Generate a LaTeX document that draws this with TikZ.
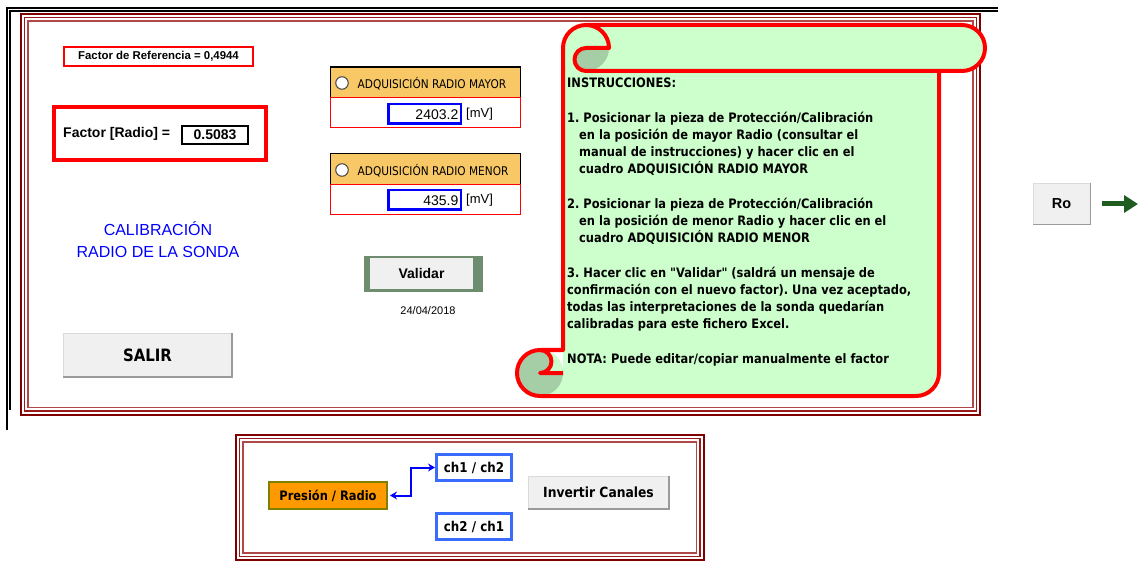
\documentclass[tikz,border=0pt]{standalone}
\usepackage{fontspec}
\setmainfont{Liberation Sans}
\newfontfamily\tah[FakeStretch=0.88]{DejaVu Sans}
\usetikzlibrary{arrows.meta}
\frenchspacing

\newcommand\fsz[1]{\fontsize{#1}{#1}\selectfont}

\definecolor{frameA}{HTML}{800000}
\definecolor{frameB}{HTML}{9A1A1A}
\definecolor{frameC}{HTML}{B04848}
\definecolor{scrollfill}{HTML}{CCFFCC}
\definecolor{scrolldark}{HTML}{A6CEA6}
\definecolor{hdrorange}{HTML}{F8C866}
\definecolor{btnface}{HTML}{F0F0F0}
\definecolor{btnrim}{HTML}{DADADA}
\definecolor{btnshade}{HTML}{9A9A9A}
\definecolor{valgreen}{HTML}{6E8C6E}
\definecolor{chblue}{HTML}{3A6BFF}
\definecolor{presorange}{HTML}{FF9900}
\definecolor{presedge}{HTML}{808000}
\definecolor{roarrow}{HTML}{1F5C1F}

\begin{document}
\begin{tikzpicture}[x=1pt,y=-1pt,
  button/.style={fill=btnface, draw=btnrim, line width=0.8pt, inner sep=0pt},
  hdr/.style={fill=hdrorange, draw=black, line width=1.5pt, inner sep=0pt,
              minimum width=190, minimum height=31},
  valbox/.style={fill=white, draw=red, line width=1pt, inner sep=0pt,
                 minimum width=190, minimum height=30},
  numbox/.style={draw=blue, line width=2.5pt, inner sep=0pt,
                 minimum width=72.5, minimum height=19.5},
  chbox/.style={draw=chblue, line width=3pt, fill=white, inner sep=0pt,
                minimum width=75, minimum height=26, font=\tah\bfseries\fsz{13.5}},
  instr/.style={anchor=base west, inner sep=0pt, font=\tah\bfseries\fsz{13}},
  scrollline/.style={draw=red, line width=4pt, line join=round},
  radiodot/.style={circle, fill=white, draw=black!75, line width=1pt,
                   inner sep=0pt, minimum size=12.5}
]
\useasboundingbox (0,0) rectangle (1138,569);
\fill[white] (0,0) rectangle (1138,569);

% sheet edge (black double rule)
\draw[black, line width=1.6pt] (6.8,430) -- (6.8,8.2) -- (998,8.2);
\draw[black, line width=1.8pt] (10,410) -- (10,11.3) -- (998,11.3);

% main form frame (triple dark-red rule)
\draw[frameA, line width=2pt]   (21,14) rectangle (980,414.5);
\draw[frameB, line width=1.3pt] (24.5,17.5) rectangle (976.5,411);
\draw[frameC, line width=1.3pt] (28,21) rectangle (973,407.5);

% reference factor
\node[draw=red, line width=2pt, inner sep=0pt, minimum width=189, minimum height=19,
      font=\bfseries\fsz{11.4}] (refbox) at (158.5,56.5) {Factor de Referencia = 0,4944};

% current factor
\draw[red, line width=4pt] (54,107) rectangle (266,160);
\node[anchor=west, inner sep=0pt, font=\bfseries\fsz{14}] (factlbl) at (63,134) {Factor [Radio] =};
\node[draw=black, line width=2pt, inner sep=0pt, minimum width=66, minimum height=18,
      font=\bfseries\fsz{14}] (factval) at (215,135) {0.5083};

% title
\node[align=center, inner sep=0pt, text=blue, font=\fsz{16}] (title) at (158,240)
  {CALIBRACIÓN\\[6pt]RADIO DE LA SONDA};

% exit button
\node[button, minimum width=168, minimum height=43, font=\tah\bfseries\fsz{17}] (salir) at (147.5,355) {SALIR};
\draw[btnshade, line width=1.5pt] (salir.north east) -- (salir.south east) -- (salir.south west);

% acquisition: larger radius
\node[hdr] (mayorhdr) at (425.5,82.5) {};
\node[radiodot] (mayordot) at (342,83) {};
\node[anchor=west, inner sep=0pt, font=\tah\fsz{12}] (mayorlbl) at (357.5,84) {ADQUISICIÓN RADIO MAYOR};
\node[valbox] (mayorrow) at (425.5,113) {};
\node[numbox] (mayornum) at (424.5,114) {};
\node[anchor=east, inner sep=0pt, font=\fsz{14}] (mayorval) at (458.5,114.5) {2403.2};
\node[anchor=west, inner sep=0pt, font=\fsz{13}] (mayorunit) at (466,114) {[mV]};

% acquisition: smaller radius
\node[hdr] (menorhdr) at (425.5,169) {};
\node[radiodot] (menordot) at (342,170) {};
\node[anchor=west, inner sep=0pt, font=\tah\fsz{12}] (menorlbl) at (357.5,170.5) {ADQUISICIÓN RADIO MENOR};
\node[valbox] (menorrow) at (425.5,200) {};
\node[numbox] (menornum) at (424.5,200) {};
\node[anchor=east, inner sep=0pt, font=\fsz{14}] (menorval) at (458.5,200.5) {435.9};
\node[anchor=west, inner sep=0pt, font=\fsz{13}] (menorunit) at (466,200) {[mV]};

% validate button and date
\fill[valgreen] (364,256) rectangle (483,292);
\node[fill=btnface, inner sep=0pt, minimum width=103, minimum height=30.5,
      font=\bfseries\fsz{14}] (validar) at (421.5,273.75) {Validar};
\node[inner sep=0pt, font=\fsz{11}] (fecha) at (428,311) {24/04/2018};

% instruction scroll: body
\fill[scrollfill] (540,396) arc[start angle=90, delta angle=-90, radius=23]
  -- (563,48) arc[start angle=180, delta angle=90, radius=23]
  -- (962,25) arc[start angle=270, delta angle=180, radius=23]
  -- (939,71) -- (939,373) arc[start angle=0, delta angle=90, radius=23] -- cycle;
% upper curl
\fill[scrolldark] (609,48) arc[start angle=0, delta angle=90, radius=23]
  arc[start angle=90, delta angle=180, radius=11.5] -- cycle;
% lower roll with its notch and curl
\fill[scrolldark] (540,373) circle[radius=23];
\fill[scrollfill] (540,373) -- (540,350) arc[start angle=270, delta angle=90, radius=23] -- cycle;
\fill[scrolldark] (540,373) arc[start angle=90, delta angle=-180, radius=11.5] -- cycle;
% outline
\draw[scrollline] (563,350) -- (563,48) arc[start angle=180, delta angle=90, radius=23]
  -- (962,25) arc[start angle=270, delta angle=180, radius=23]
  -- (939,71) -- (939,373) arc[start angle=0, delta angle=90, radius=23]
  -- (540,396) arc[start angle=90, delta angle=180, radius=23] -- cycle;
\draw[scrollline] (586,25) arc[start angle=270, delta angle=90, radius=23]
  -- (586,48) arc[start angle=270, delta angle=-180, radius=11.5] -- (939,71);
\draw[scrollline] (540,350) arc[start angle=270, delta angle=180, radius=11.5] -- (563,373);

% instruction text
\foreach \i/\ln in {
  0/{INSTRUCCIONES:},
  2/{1. Posicionar la pieza de Protección/Calibración},
  3/{\hspace*{12pt}en la posición de mayor Radio (consultar el},
  4/{\hspace*{12pt}manual de instrucciones) y hacer clic en el},
  5/{\hspace*{12pt}cuadro ADQUISICIÓN RADIO MAYOR},
  7/{2. Posicionar la pieza de Protección/Calibración},
  8/{\hspace*{12pt}en la posición de menor Radio y hacer clic en el},
  9/{\hspace*{12pt}cuadro ADQUISICIÓN RADIO MENOR},
  11/{3. Hacer clic en "Validar" (saldrá un mensaje de},
  12/{confirmación con el nuevo factor). Una vez aceptado,},
  13/{todas las interpretaciones de la sonda quedarían},
  14/{calibradas para este fichero Excel.},
  16/{NOTA: Puede editar/copiar manualmente el factor}}
  \node[instr] (ins\i) at (567,{88+17.19*\i}) {\ln};

% Ro button with arrow
\node[button, minimum width=57, minimum height=41, font=\bfseries\fsz{14.5}] (ro) at (1061.5,203.5) {Ro};
\draw[btnshade, line width=1.2pt] (ro.north east) -- (ro.south east) -- (ro.south west);
\coordinate (roend) at (1138,204);
\draw[roarrow, line width=5pt, shorten <=12pt, -{Triangle[length=14pt, width=17pt]}] (ro.east |- roend) -- (roend);

% channel selector frame
\draw[frameA, line width=2pt]   (236,435) rectangle (703.5,560);
\draw[frameB, line width=1.3pt] (239.5,438.5) rectangle (700,556.5);
\draw[frameC, line width=1.3pt] (243,442) rectangle (696.5,553);

\node[fill=presorange, draw=presedge, line width=2pt, inner sep=0pt,
      minimum width=118, minimum height=27, font=\tah\bfseries\fsz{13}] (pres) at (328,495.5) {Presión / Radio};
\node[chbox] (ch1) at (474,467.5) {ch1 / ch2};
\node[chbox] (ch2) at (474,526.5) {ch2 / ch1};
\draw[blue, line width=2pt, {Stealth[length=7pt, width=8pt]}-{Stealth[length=7pt, width=8pt]}]
  ([xshift=2pt]pres.east) -- ++(21,0) |- (ch1.west);

\node[button, minimum width=140, minimum height=32, font=\tah\bfseries\fsz{14}] (invert) at (598.5,492.5) {Invertir Canales};
\draw[btnshade, line width=1.5pt] (invert.north east) -- (invert.south east) -- (invert.south west);
\end{tikzpicture}
\end{document}
